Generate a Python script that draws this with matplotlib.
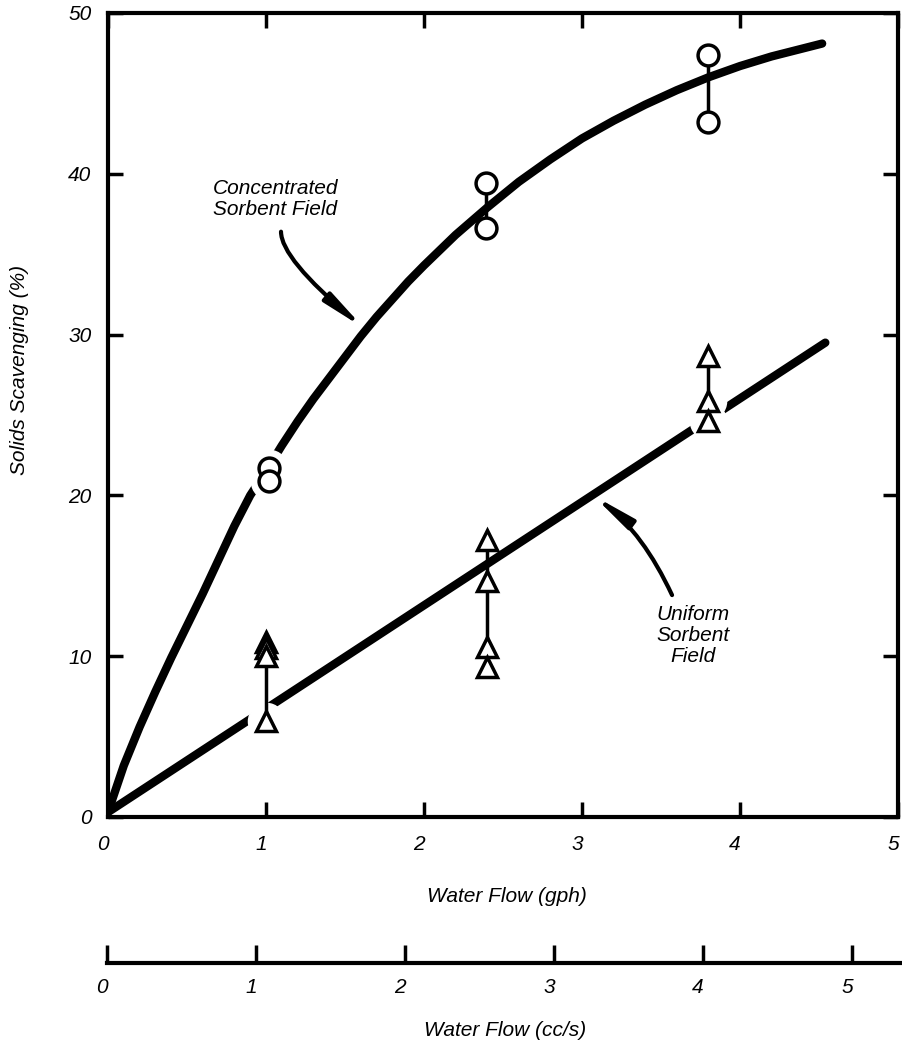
import numpy as np
import matplotlib
matplotlib.use("Agg")
from matplotlib import pyplot as plt
from matplotlib import transforms

plt.rcParams['font.family'] = ['Liberation Sans', 'DejaVu Sans']
plt.rcParams['font.style'] = 'italic'
plt.rcParams['font.size'] = 15

W, H = 902, 1045

# fitted curves (gph, %)
conc_curve_x = [0.0, 0.1, 0.2, 0.3, 0.4, 0.5, 0.6, 0.7, 0.8, 0.9, 1.0, 1.1, 1.2,
                1.3, 1.4, 1.5, 1.6, 1.7, 1.8, 1.9, 2.0, 2.2, 2.4, 2.6, 2.8, 3.0,
                3.2, 3.4, 3.6, 3.8, 4.0, 4.2, 4.4, 4.52]
conc_curve_y = [0.3, 3.2, 5.6, 7.8, 9.9, 11.9, 13.9, 16.0, 18.1, 20.0, 21.5, 23.1, 24.6,
                26.0, 27.3, 28.6, 29.9, 31.1, 32.2, 33.3, 34.3, 36.2, 37.9, 39.5, 40.9, 42.2,
                43.3, 44.3, 45.2, 46.0, 46.7, 47.3, 47.8, 48.1]
unif_line_x = [0.0, 4.54]
unif_line_y = [0.3, 29.5]

# measured points, grouped by flow rate
conc_x = [1.02, 2.39, 3.80]
conc_y = [[21.7, 20.9], [39.4, 36.6], [47.4, 43.2]]
conc_gap = [True, False, False]
unif_x = [1.0, 2.40, 3.80]
unif_y = [[10.9, 10.5, 10.0, 6.0], [17.2, 14.7, 10.6, 9.3], [28.7, 25.9, 24.6]]
unif_gap = [True, False, True]

gph_ticks = [0, 1, 2, 3, 4, 5]
ccs_ticks = [0, 1, 2, 3, 4, 5]
y_ticks = [0, 10, 20, 30, 40, 50]

fig = plt.figure(figsize=(W / 100, H / 100), dpi=100)

def fx(px):
    return px / W

def fy(py):
    return 1 - py / H

ax = fig.add_axes([fx(108), fy(817), (898 - 108) / W, (817 - 13) / H])
ax.set_xlim(0, 5)
ax.set_ylim(0, 50)

ax.plot(conc_curve_x, conc_curve_y, color='black', lw=6, solid_capstyle='round',
        solid_joinstyle='round', zorder=2)
ax.plot(unif_line_x, unif_line_y, color='black', lw=6, solid_capstyle='round', zorder=2)

def draw_group(xs, ys, gaps, marker):
    for x, vals, gap in zip(xs, ys, gaps):
        if gap:
            # white halo so the fitted line breaks around the points
            ax.plot([x] * len(vals), vals, 'o', ms=26, color='white', zorder=3)
        ax.plot([x, x], [min(vals), max(vals)], color='black', lw=2.5, zorder=4)
        ax.plot([x] * len(vals), vals, marker, ms=15, mfc='white', mec='black',
                mew=2.5, zorder=5)

draw_group(conc_x, conc_y, conc_gap, 'o')
draw_group(unif_x, unif_y, unif_gap, '^')

for side in ['left', 'right', 'top', 'bottom']:
    ax.spines[side].set_linewidth(3)

ax.set_xticks(gph_ticks)
ax.set_yticks(y_ticks)
ax.set_xticklabels([str(t) for t in gph_ticks])
ax.set_yticklabels([str(t) for t in y_ticks])
ax.tick_params(direction='in', length=11, width=2.5, top=True, right=True,
               labelsize=15, pad=13)
ax.tick_params(axis='y', pad=12)

# italic labels sit a little left of their ticks
shift = transforms.ScaledTranslation(-5 / 100, 0, fig.dpi_scale_trans)
for lab in ax.get_xticklabels():
    lab.set_transform(lab.get_transform() + shift)

# annotations
ax.text(0.665, 39.7, 'Concentrated\nSorbent Field', ha='left', va='top',
        fontsize=15, linespacing=1.15)
ax.annotate('', xy=(1.62, 30.4), xytext=(1.095, 36.4),
            arrowprops=dict(arrowstyle='-|>,head_length=1.6,head_width=0.22',
                            connectionstyle='angle3,angleA=-90,angleB=-40',
                            lw=3, color='black', shrinkA=0, shrinkB=0))
ax.text(3.70, 13.2, 'Uniform\nSorbent\nField', ha='center', va='top',
        fontsize=15, linespacing=1.15, multialignment='center')
ax.annotate('', xy=(3.07, 20.0), xytext=(3.57, 13.8),
            arrowprops=dict(arrowstyle='-|>,head_length=1.6,head_width=0.22',
                            connectionstyle='angle3,angleA=115,angleB=143',
                            lw=3, color='black', shrinkA=0, shrinkB=0))

# second scale in cc/s
ax2 = fig.add_axes([fx(107), fy(963), (902 - 107) / W, 0.02])
ax2.set_xlim(0, (902 - 107) / 149.0)
ax2.set_ylim(0, 1)
for side in ['left', 'right', 'top']:
    ax2.spines[side].set_visible(False)
ax2.spines['bottom'].set_linewidth(3)
ax2.set_yticks([])
ax2.set_xticks(ccs_ticks)
ax2.set_xticklabels([str(t) for t in ccs_ticks])
ax2.tick_params(axis='x', direction='in', length=13, width=2.5, labelsize=15, pad=11)
ax2.patch.set_visible(False)
for lab in ax2.get_xticklabels():
    lab.set_transform(lab.get_transform() + shift)

fig.text(fx(507), fy(897), 'Water Flow (gph)', ha='center', va='center', fontsize=15)
fig.text(fx(505), fy(1030), 'Water Flow (cc/s)', ha='center', va='center', fontsize=15)
fig.text(fx(20), fy(370), 'Solids Scavenging (%)', ha='center', va='center',
         rotation=90, fontsize=15)

fig.savefig('out.png', dpi=100)
